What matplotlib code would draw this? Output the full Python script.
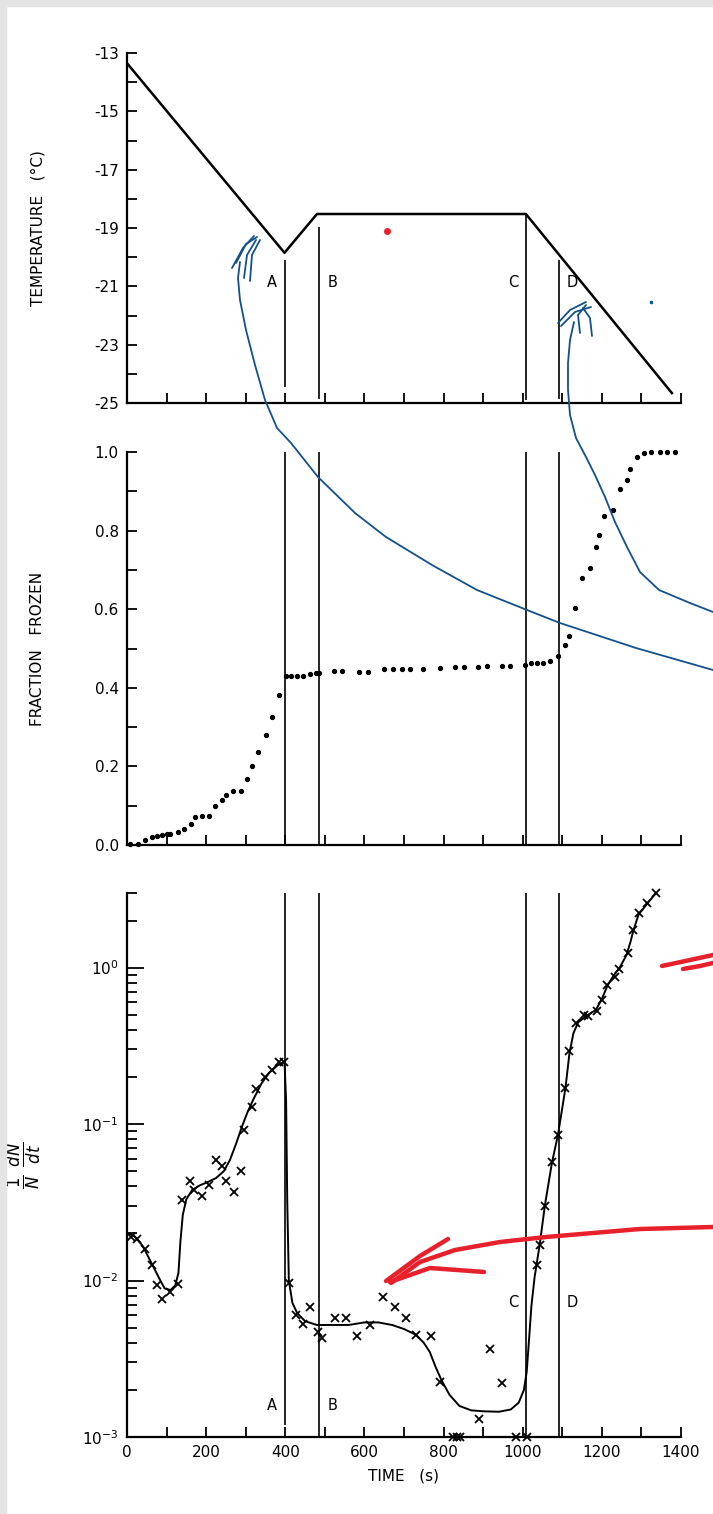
import matplotlib
matplotlib.use('Agg')
import matplotlib.pyplot as plt
from matplotlib.lines import Line2D
from matplotlib.patches import Rectangle
from matplotlib.ticker import (MultipleLocator, FixedLocator, LogLocator, NullFormatter,
                               FormatStrFormatter)

plt.rcParams['font.family'] = ['DejaVu Sans']
plt.rcParams['axes.unicode_minus'] = False

# cooling programme (time s, temperature C)
temp_t = [0, 398, 480, 1008, 1377]
temp_c = [-13.35, -19.85, -18.52, -18.52, -24.66]
temp_ticks = [-25, -23, -21, -19, -17, -15, -13]

# events A-D
event_t = [400, 486, 1008, 1091]
event_name = ['A', 'B', 'C', 'D']

# fraction of drops frozen
frac_t = [7, 27, 46, 63, 77, 88, 101, 109, 128, 143, 161, 172, 189, 206, 222, 239, 250, 268,
          288, 304, 317, 330, 350, 366, 385, 401, 415, 429, 446, 463, 478, 486, 522, 543,
          587, 608, 650, 672, 695, 715, 748, 790, 828, 851, 888, 909, 947, 969, 1005, 1022,
          1035, 1051, 1068, 1089, 1108, 1118, 1133, 1150, 1169, 1184, 1192, 1206, 1229, 1246,
          1263, 1271, 1290, 1307, 1324, 1347, 1365, 1386]
frac_f = [0.003, 0.002, 0.013, 0.020, 0.024, 0.026, 0.027, 0.029, 0.032, 0.040, 0.053, 0.070,
          0.074, 0.074, 0.098, 0.115, 0.127, 0.138, 0.138, 0.167, 0.201, 0.236, 0.279, 0.325,
          0.381, 0.431, 0.430, 0.430, 0.430, 0.436, 0.437, 0.437, 0.443, 0.443, 0.441, 0.441,
          0.448, 0.448, 0.448, 0.448, 0.448, 0.451, 0.452, 0.452, 0.454, 0.455, 0.456, 0.456,
          0.457, 0.462, 0.462, 0.462, 0.469, 0.481, 0.509, 0.532, 0.604, 0.680, 0.706, 0.759,
          0.790, 0.837, 0.852, 0.905, 0.929, 0.958, 0.988, 0.997, 1.0, 1.0, 1.0, 1.0]

# (1/N) dN/dt, measured points
rate_t = [9, 26, 46, 63, 76, 88, 108, 128, 140, 158, 170, 189, 206, 225, 239, 250, 271, 289,
          296, 316, 327, 348, 367, 385, 396, 409, 428, 446, 463, 482, 492, 526, 553, 581, 614,
          648, 676, 705, 730, 769, 792, 825, 833, 841, 890, 917, 948, 984, 1012, 1035, 1043,
          1056, 1073, 1089, 1108, 1118, 1135, 1156, 1166, 1188, 1200, 1213, 1232, 1244, 1265,
          1278, 1294, 1315, 1336]
rate_v = [0.0191, 0.0184, 0.0158, 0.0126, 0.0093, 0.0076, 0.0084, 0.0095, 0.0329, 0.0431,
          0.0377, 0.0347, 0.0409, 0.0592, 0.0537, 0.0431, 0.0366, 0.0501, 0.0912, 0.129, 0.168,
          0.200, 0.223, 0.248, 0.251, 0.0097, 0.0060, 0.0053, 0.0068, 0.0047, 0.0043, 0.0058,
          0.0058, 0.0044, 0.0052, 0.0079, 0.0068, 0.0058, 0.0045, 0.0044, 0.00226, 0.001, 0.001,
          0.001, 0.0013, 0.00363, 0.00221, 0.001, 0.001, 0.0126, 0.0169, 0.0301, 0.0569, 0.0855,
          0.170, 0.292, 0.444, 0.501, 0.490, 0.527, 0.625, 0.780, 0.873, 0.982, 1.24, 1.75, 2.24,
          2.59, 2.98]

# hand-fitted curve through the rate points
fit_t = [0, 20, 40, 60, 80, 95, 110, 122, 130, 135, 141, 150, 165, 185, 205, 225, 245, 260,
         275, 290, 305, 320, 340, 360, 380, 398, 402, 405, 409, 418, 430, 450, 480, 520, 560,
         600, 635, 670, 700, 730, 750, 765, 780, 795, 815, 840, 870, 900, 940, 970, 990, 1003,
         1010, 1016, 1022, 1030, 1043, 1056, 1074, 1089, 1108, 1118, 1128, 1140, 1160, 1185,
         1200, 1215, 1230, 1245, 1262, 1272, 1280, 1293, 1315, 1336]
fit_v = [0.0202, 0.0191, 0.0166, 0.0132, 0.0105, 0.0089, 0.0087, 0.0093, 0.0112, 0.0178,
         0.0263, 0.0331, 0.0380, 0.0407, 0.0427, 0.0452, 0.0501, 0.0589, 0.0741, 0.0955, 0.120,
         0.145, 0.182, 0.214, 0.237, 0.251, 0.141, 0.0316, 0.0100, 0.0072, 0.0062, 0.0055,
         0.0052, 0.0052, 0.0052, 0.0054, 0.0054, 0.0052, 0.0049, 0.0045, 0.0040, 0.0035,
         0.0028, 0.0023, 0.00186, 0.00158, 0.00148, 0.00146, 0.00145, 0.0015, 0.00166, 0.0020,
         0.0026, 0.0042, 0.0069, 0.0105, 0.0170, 0.0302, 0.0569, 0.0851, 0.170, 0.282, 0.380,
         0.447, 0.490, 0.537, 0.631, 0.776, 0.891, 1.0, 1.20, 1.45, 1.74, 2.19, 2.57, 2.98]

W, H = 713, 1514
fig = plt.figure(figsize=(W / 100, H / 100), dpi=100)


def axes_px(left, top, right, bottom):
    return fig.add_axes([left / W, 1 - bottom / H, (right - left) / W, (bottom - top) / H])


def px(pts):
    return [p[0] / W for p in pts], [1 - p[1] / H for p in pts]


ax1 = axes_px(127, 53, 681, 403)
ax2 = axes_px(127, 452, 681, 845)
ax3 = axes_px(127, 893, 681, 1437)

for ax in (ax1, ax2, ax3):
    ax.spines['top'].set_visible(False)
    ax.spines['right'].set_visible(False)
    ax.spines['left'].set_linewidth(1.6)
    ax.spines['bottom'].set_linewidth(1.6)
    ax.set_xlim(0, 1400)
    ax.tick_params(which='both', direction='in', width=1.3, length=7, labelsize=11, pad=6)

# temperature
ax1.plot(temp_t, temp_c, color='black', lw=1.8)
ax1.set_ylim(-25, -13)
ax1.yaxis.set_major_locator(FixedLocator(temp_ticks))
ax1.yaxis.set_minor_locator(MultipleLocator(1))
ax1.xaxis.set_major_locator(MultipleLocator(100))
ax1.tick_params(labelbottom=False)
ax1.vlines(event_t, [-24.45, -24.85, -24.9, -24.85], [-20.1, -18.95, -18.55, -20.1],
           color='black', lw=1.2)
for t, name in zip(event_t, event_name):
    off, ha = (-20, 'right') if name in ('A', 'C') else (20, 'left')
    ax1.text(t + off, -20.88, name, ha=ha, va='center', fontsize=10.5)
ax1.set_ylabel('TEMPERATURE   (°C)', fontsize=11)

# fraction frozen
ax2.plot(frac_t, frac_f, 'o', color='black', ms=2.8, clip_on=False)
ax2.set_ylim(0, 1)
ax2.yaxis.set_major_locator(MultipleLocator(0.2))
ax2.yaxis.set_minor_locator(MultipleLocator(0.1))
ax2.yaxis.set_major_formatter(FormatStrFormatter('%.1f'))
ax2.xaxis.set_major_locator(MultipleLocator(100))
ax2.tick_params(labelbottom=False)
ax2.vlines(event_t, 0, 1, color='black', lw=1.2)
ax2.set_ylabel('FRACTION   FROZEN', fontsize=11)

# nucleation rate
ax3.set_yscale('log')
ax3.plot(fit_t, fit_v, color='black', lw=1.4)
ax3.plot(rate_t, rate_v, 'x', color='black', ms=6, mew=1.3, clip_on=False)
ax3.set_ylim(1e-3, 3)
ax3.yaxis.set_major_locator(LogLocator(base=10))
ax3.yaxis.set_minor_locator(LogLocator(base=10, subs=range(2, 10)))
ax3.yaxis.set_minor_formatter(NullFormatter())
ax3.tick_params(axis='y', which='major', length=12)
ax3.tick_params(axis='y', which='minor', length=7)
ax3.xaxis.set_major_locator(MultipleLocator(200))
ax3.xaxis.set_minor_locator(MultipleLocator(100))
ax3.vlines(event_t, [0.0012, 1e-3, 1e-3, 1e-3], 3, color='black', lw=1.2)
for t, name in zip(event_t, event_name):
    off, ha = (-20, 'right') if name in ('A', 'C') else (20, 'left')
    yv = 0.0016 if name in ('A', 'B') else 0.0072
    ax3.text(t + off, yv, name, ha=ha, va='center', fontsize=10.5)
ax3.set_ylabel(r'$\frac{1}{N}\ \frac{dN}{dt}$', fontsize=17)
ax3.set_xlabel('TIME   (s)', fontsize=11, labelpad=6)

ax1.yaxis.set_label_coords(-0.148, 0.5)
ax2.yaxis.set_label_coords(-0.148, 0.5)
ax3.yaxis.set_label_coords(-0.15, 0.5)

# scan border
fig.patches.append(Rectangle((0, 1 - 6 / H), 1, 6 / H, transform=fig.transFigure,
                             color='#e4e4e4', zorder=0))
fig.patches.append(Rectangle((0, 0), 6 / W, 1, transform=fig.transFigure,
                             color='#e4e4e4', zorder=0))

# pen marks on top
blue = '#12508e'
red = '#e8202b'
blue_marks = [
    [(713, 670), (636, 648), (560, 623), (527, 610), (477, 590), (432, 565), (386, 537),
     (355, 513), (318, 477), (291, 443), (277, 428), (265, 400), (255, 365), (246, 330),
     (240, 300), (238, 278), (240, 262)],
    [(232, 268), (243, 248), (254, 236)],
    [(236, 263), (246, 244), (257, 237)],
    [(244, 278), (247, 255), (256, 240)],
    [(250, 281), (252, 255), (260, 240)],
    [(713, 612), (690, 603), (659, 590), (640, 572), (627, 547), (615, 522), (605, 497),
     (595, 475), (586, 457), (576, 438), (570, 415), (568, 390), (568, 363), (570, 340),
     (574, 322)],
    [(558, 323), (570, 310), (586, 302)],
    [(561, 326), (575, 312), (591, 307)],
    [(580, 333), (578, 315), (586, 305)],
    [(592, 336), (590, 318), (583, 308)],
]
for m in blue_marks:
    xs, ys = px(m)
    fig.add_artist(Line2D(xs, ys, color=blue, lw=1.3, solid_capstyle='round'))

red_marks = [
    [(662, 966), (690, 960), (713, 955)],
    [(683, 969), (700, 966), (713, 963)],
    [(713, 1227), (640, 1229), (546, 1237), (500, 1242), (455, 1250), (420, 1262), (391, 1283)],
    [(386, 1281), (420, 1256), (448, 1239)],
    [(390, 1282), (430, 1268), (484, 1272)],
]
for m in red_marks:
    xs, ys = px(m)
    fig.add_artist(Line2D(xs, ys, color=red, lw=3.2, solid_capstyle='round'))

# stray pen dots
xs, ys = px([(387, 231)])
fig.add_artist(Line2D(xs, ys, marker='o', ms=4, color=red, lw=0))
xs, ys = px([(651, 302)])
fig.add_artist(Line2D(xs, ys, marker='o', ms=1.6, color=blue, lw=0))

fig.savefig('out.png', dpi=100, facecolor='white')
plt.close()
